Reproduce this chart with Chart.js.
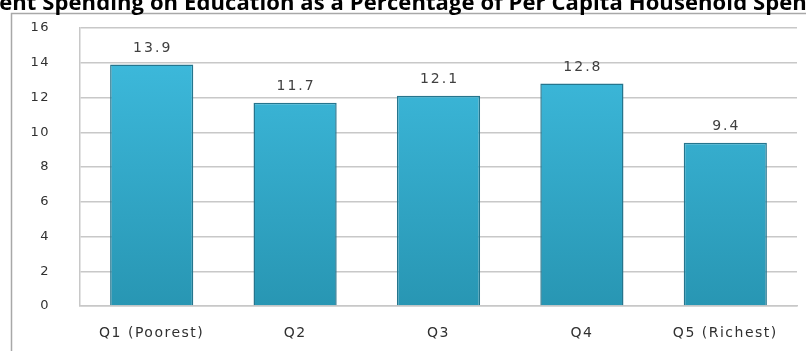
<!DOCTYPE html>
<html>
<head>
<meta charset="utf-8">
<script src="https://cdn.jsdelivr.net/npm/chart.js@4"></script>
<style>
  html, body { margin: 0; padding: 0; background: #fff; }
  #caja { position: relative; width: 806px; height: 351px; overflow: hidden; }
</style>
</head>
<body>
<div id="caja"><canvas id="grafico" width="806" height="351"></canvas></div>
<script>
// datos del grafico
const titulo = 'ent Spending on Education as a Percentage of Per Capita Household Spen';
const quintiles = ['Q1 (Poorest)', 'Q2', 'Q3', 'Q4', 'Q5 (Richest)'];
const porcentajes = [13.9, 11.7, 12.1, 12.8, 9.4];
const ticksY = [0, 2, 4, 6, 8, 10, 12, 14, 16];

// texto un poco espaciado, como en el original
const espaciado = {
    id: 'espaciado',
    beforeUpdate(chart) { chart.ctx.letterSpacing = '1.5px'; },
    beforeDraw(chart) { chart.ctx.letterSpacing = '1.5px'; }
};

// marco gris y titulo (cortado arriba, como en la imagen)
const marco = {
    id: 'marco',
    beforeDraw(chart) {
        const c = chart.ctx;
        c.save();
        c.strokeStyle = '#a8a8a8';
        c.lineWidth = 1.5;
        c.beginPath();
        c.moveTo(11.5, 351);
        c.lineTo(11.5, 13.5);
        c.lineTo(806, 13.5);
        c.stroke();
        c.font = 'bold 22px "Open Sans"';
        c.fillStyle = '#000';
        c.textAlign = 'center';
        c.textBaseline = 'alphabetic';
        c.letterSpacing = '0.1px';
        c.fillText(titulo, chart.width / 2, 10);
        c.restore();
    }
};

// etiquetas de valor encima de cada barra
const etiquetas = {
    id: 'etiquetas',
    afterDatasetsDraw(chart) {
        const c = chart.ctx;
        const meta = chart.getDatasetMeta(0);
        c.save();
        c.letterSpacing = '2px';
        c.font = '14px "DejaVu Sans"';
        c.fillStyle = '#404040';
        c.textAlign = 'center';
        c.textBaseline = 'middle';
        meta.data.forEach((bar, i) => {
            c.fillText(porcentajes[i].toFixed(1), bar.x + 1, bar.y - 16);
        });
        c.restore();
    }
};

function colorBarra(ctx) {
    const area = ctx.chart.chartArea;
    if (!area) return '#35abcb';
    const g = ctx.chart.ctx.createLinearGradient(0, area.top, 0, area.bottom);
    g.addColorStop(0, '#3fbde0');
    g.addColorStop(1, '#2896b3');
    return g;
}

new Chart(document.getElementById('grafico'), {
    type: 'bar',
    data: {
        labels: quintiles,
        datasets: [{
            data: porcentajes,
            backgroundColor: colorBarra,
            borderColor: '#25758d',
            borderWidth: 1.5,
            barPercentage: 0.58,
            categoryPercentage: 1
        }]
    },
    options: {
        responsive: false,
        animation: false,
        layout: { padding: { left: 12, right: 9, top: 28, bottom: 0 } },
        plugins: {
            legend: { display: false },
            tooltip: { enabled: false },
            title: { display: false }
        },
        scales: {
            x: {
                grid: { display: false, drawTicks: false },
                border: { color: '#c8c8c8', width: 1.5 },
                ticks: { color: '#303030', font: { family: '"DejaVu Sans"', size: 14 }, padding: 19, maxRotation: 0 },
                afterFit: s => { s.height = 45; s.paddingLeft = 0; s.paddingRight = 0; }
            },
            y: {
                min: 0,
                max: 16,
                afterBuildTicks: s => { s.ticks = ticksY.map(v => ({ value: v })); },
                grid: { color: '#c8c8c8', lineWidth: 1.5, drawTicks: false },
                border: { color: '#c8c8c8', width: 1.5 },
                ticks: { color: '#303030', font: { family: '"DejaVu Sans"', size: 13 }, padding: 30 },
                afterFit: s => { s.width = 68; s.paddingTop = 0; s.paddingBottom = 0; }
            }
        }
    },
    plugins: [espaciado, marco, etiquetas]
});
</script>
</body>
</html>
